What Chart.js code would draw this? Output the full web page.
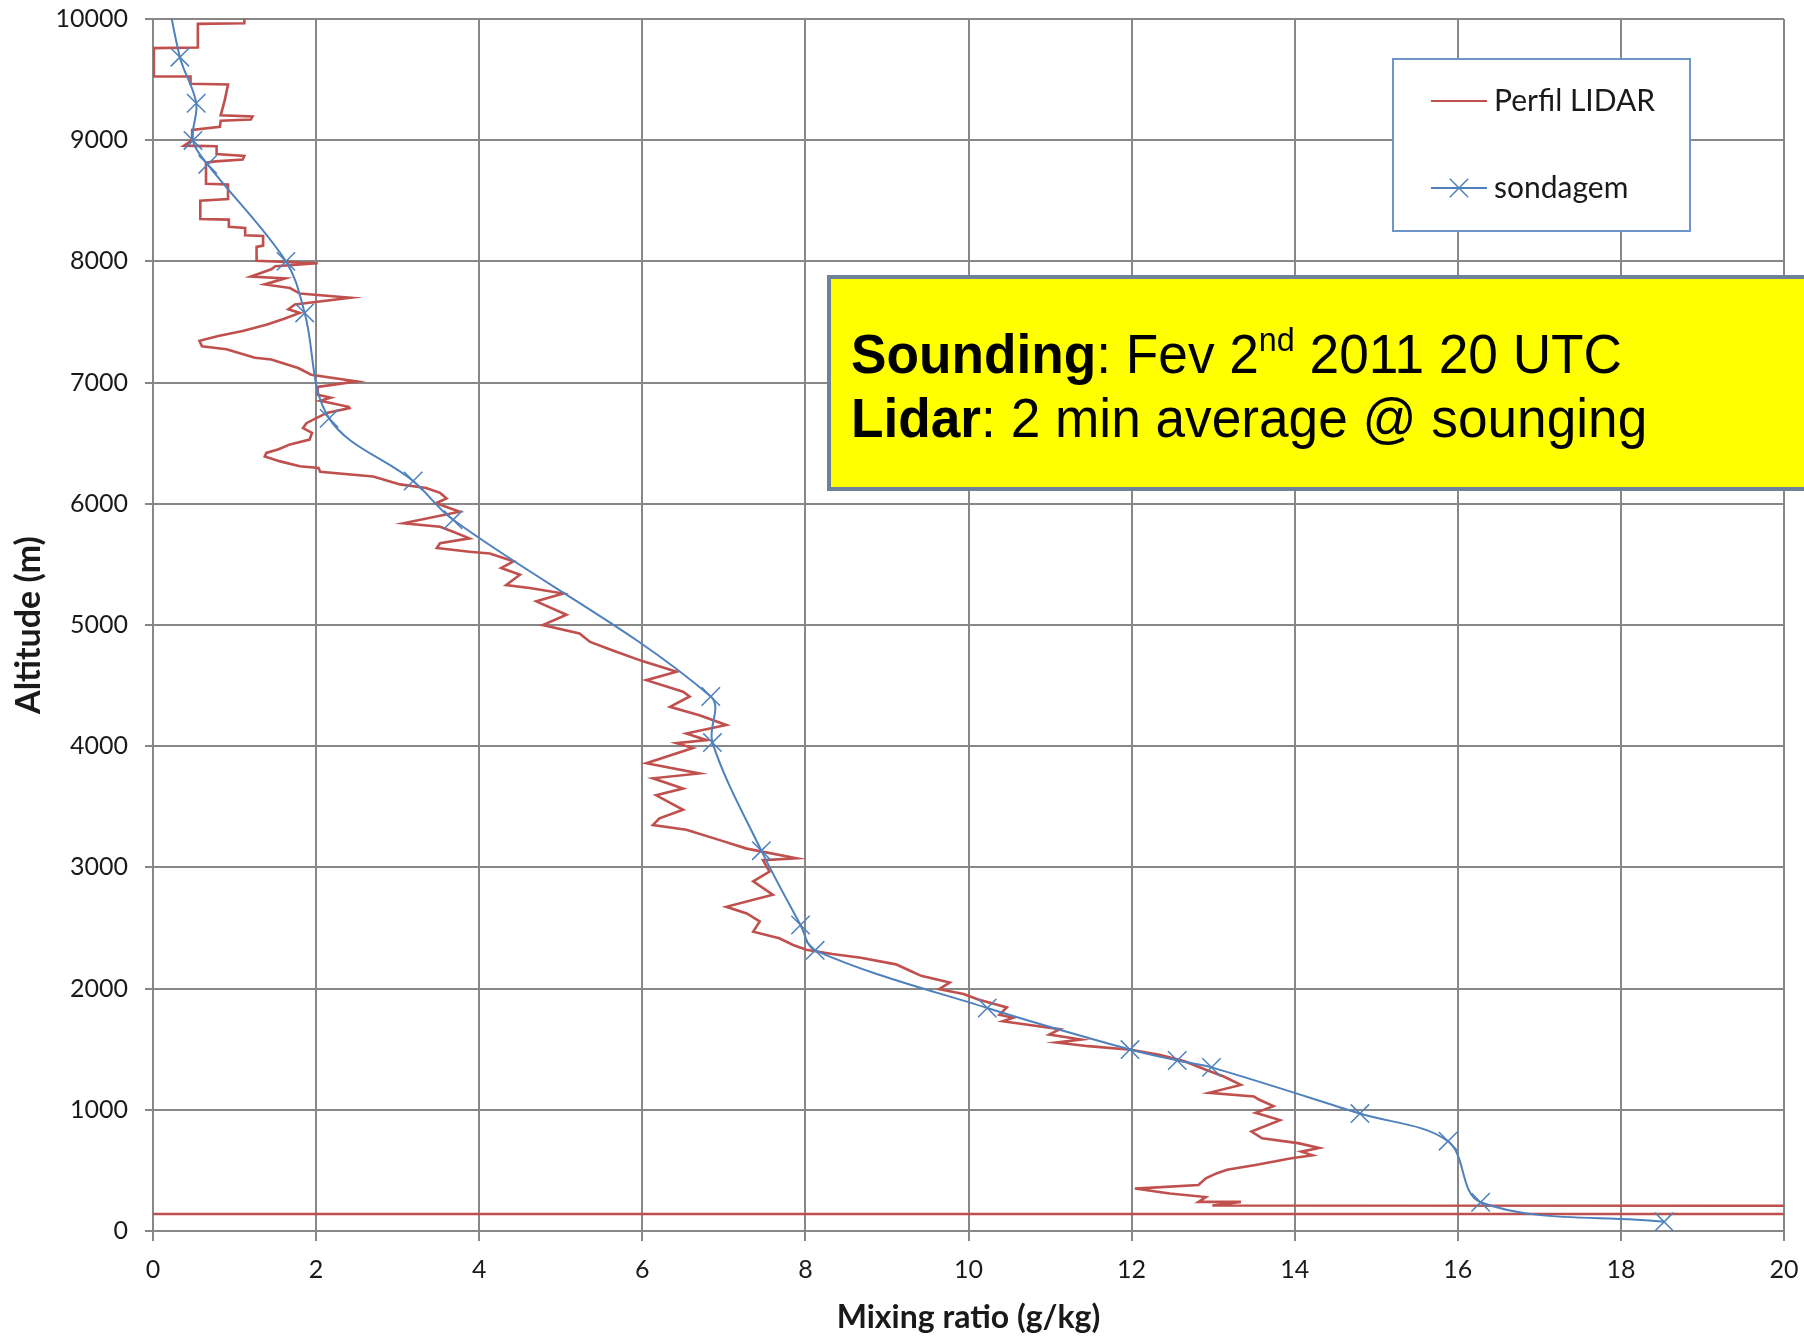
<!DOCTYPE html>
<html>
<head>
<meta charset="utf-8">
<title>Mixing ratio profile</title>
<script src="https://cdn.jsdelivr.net/npm/chart.js@4.4.0/dist/chart.umd.min.js"></script>
<style>
  html, body { margin: 0; padding: 0; background: #fff; }
  canvas { display: block; }
</style>
</head>
<body>
<canvas id="profileChart" width="1804" height="1338"></canvas>
<script>
// series names
const seriesNames = ["Perfil LIDAR", "sondagem"];

// LIDAR profile from top to bottom (g/kg, m)
const lidarRatio = [
  1.12, 1.12, 0.55, 0.55, 0.01, 0.01, 0.46, 0.46, 0.92, 0.88, 0.83, 1.22, 1.20, 0.83, 0.82, 0.48,
  0.48, 0.38, 0.78, 0.78, 1.12, 1.10, 0.77, 0.65, 0.65, 0.92, 0.92, 0.58, 0.58, 0.93, 0.93, 1.13,
  1.13, 1.35, 1.35, 1.27, 1.27, 2.02, 1.50, 1.45, 1.20, 1.62, 1.37, 1.68, 1.80, 2.42, 1.74, 1.66,
  1.80, 1.60, 1.40, 1.10, 0.80, 0.57, 0.60, 0.90, 1.25, 1.45, 1.78, 1.94, 2.50, 2.02, 2.02, 2.18,
  2.05, 2.40, 2.41, 2.13, 1.88, 1.84, 1.95, 1.92, 1.68, 1.54, 1.39, 1.37, 1.56, 1.80, 2.03, 2.05,
  2.70, 3.03, 3.35, 3.52, 3.60, 3.47, 3.76, 3.07, 3.52, 3.68, 3.88, 3.52, 3.48, 3.88, 4.13, 4.42,
  4.27, 4.50, 4.33, 4.62, 5.03, 4.70, 5.07, 4.78, 5.23, 5.36, 5.68, 6.01, 6.42, 6.05, 6.50, 6.58,
  6.34, 6.70, 7.03, 6.54, 6.79, 6.42, 6.62, 6.05, 6.70, 6.13, 6.50, 6.17, 6.50, 6.21, 6.13, 6.54,
  6.95, 7.28, 7.89, 7.48, 7.56, 7.36, 7.60, 7.03, 7.28, 7.44, 7.36, 7.68, 7.85, 8.01, 8.33, 8.68,
  9.11, 9.29, 9.42, 9.77, 9.64, 9.94, 10.12, 10.47, 10.38, 10.55, 10.42, 11.12, 10.99, 11.38, 11.08, 11.47,
  11.99, 12.34, 12.65, 12.91, 13.13, 13.34, 12.95, 13.50, 13.56, 13.74, 13.52, 13.82, 13.47, 13.60, 14.04, 14.30,
  14.08, 14.22, 13.96, 13.52, 13.17, 13.04, 12.91, 12.82, 12.04, 12.47, 12.91, 12.82, 13.34, 12.99, 30, 30,
  -1
];
const lidarAltitude = [
  10060, 9965, 9960, 9765, 9760, 9525, 9525, 9465, 9460, 9330, 9205, 9195, 9170, 9160, 9110, 9085,
  9000, 8955, 8950, 8885, 8870, 8840, 8825, 8815, 8640, 8635, 8515, 8500, 8350, 8345, 8285, 8275,
  8215, 8210, 8130, 8120, 8005, 7985, 7960, 7935, 7875, 7860, 7810, 7780, 7735, 7700, 7645, 7605,
  7575, 7525, 7480, 7425, 7385, 7345, 7300, 7275, 7205, 7190, 7120, 7065, 7010, 6965, 6900, 6875,
  6850, 6800, 6790, 6750, 6665, 6625, 6585, 6530, 6490, 6450, 6420, 6390, 6350, 6310, 6295, 6265,
  6225, 6160, 6130, 6090, 6045, 6005, 5935, 5840, 5810, 5770, 5715, 5675, 5635, 5605, 5590, 5525,
  5470, 5415, 5330, 5305, 5260, 5195, 5085, 5000, 4930, 4860, 4780, 4700, 4615, 4545, 4450, 4410,
  4325, 4255, 4175, 4105, 4050, 4025, 3985, 3860, 3775, 3735, 3650, 3595, 3475, 3405, 3350, 3310,
  3225, 3155, 3075, 3060, 2965, 2885, 2775, 2675, 2620, 2555, 2470, 2415, 2360, 2320, 2285, 2255,
  2200, 2145, 2105, 2050, 1995, 1955, 1910, 1845, 1785, 1760, 1730, 1665, 1620, 1580, 1555, 1525,
  1495, 1455, 1400, 1330, 1275, 1205, 1140, 1110, 1085, 1030, 975, 915, 820, 765, 725, 685,
  655, 625, 600, 545, 505, 475, 435, 380, 350, 310, 280, 240, 240, 210, 205, 140,
  140
];

// radiosonde points (g/kg, m)
const sondeRatio = [
  0.12, 0.33, 0.53, 0.49, 0.67, 1.63, 1.86, 2.16, 3.19, 3.68, 6.84, 6.86,
  7.46, 7.94, 8.12, 10.23, 11.98, 12.56, 12.98, 14.80, 15.88, 16.28, 18.53
];
const sondeAltitude = [
  10400, 9685, 9305, 8998, 8800, 8000, 7575, 6705, 6188, 5868, 4410, 4030,
  3138, 2525, 2316, 1840, 1497, 1407, 1350, 969, 741, 237, 76
];

// axis ticks
const ratioTicks = [0, 2, 4, 6, 8, 10, 12, 14, 16, 18, 20];
const altitudeTicks = [0, 1000, 2000, 3000, 4000, 5000, 6000, 7000, 8000, 9000, 10000];

// note in the yellow box
const noteLines = [
  [{ text: "Sounding", bold: true }, { text: ": Fev 2" }, { text: "nd", sup: true }, { text: " 2011 20 UTC" }],
  [{ text: "Lidar", bold: true }, { text: ": 2 min average @ sounging" }]
];

const gridGray = "#878787";
const textColor = "#1a1a1a";

// legend drawn as a boxed list like the original
const boxLegend = {
  id: "boxLegend",
  afterDatasetsDraw(chart) {
    const ctx = chart.ctx;
    ctx.save();
    ctx.fillStyle = "#ffffff";
    ctx.fillRect(1393, 59, 297, 172);
    ctx.strokeStyle = "#6f96c9";
    ctx.lineWidth = 2;
    ctx.strokeRect(1393, 59, 297, 172);
    chart.data.datasets.forEach((ds, i) => {
      const y = 101 + i * 87;
      ctx.strokeStyle = ds.borderColor;
      ctx.lineWidth = 2;
      ctx.beginPath();
      ctx.moveTo(1431, y);
      ctx.lineTo(1487, y);
      ctx.stroke();
      if (ds.pointRadius > 0) {
        const r = ds.pointRadius * 0.707;
        ctx.lineWidth = ds.pointBorderWidth;
        ctx.beginPath();
        ctx.moveTo(1459 - r, y - r); ctx.lineTo(1459 + r, y + r);
        ctx.moveTo(1459 + r, y - r); ctx.lineTo(1459 - r, y + r);
        ctx.stroke();
      }
      ctx.fillStyle = textColor;
      ctx.font = "30px Lato";
      ctx.textBaseline = "middle";
      ctx.fillText(ds.label, 1494, y);
    });
    ctx.restore();
  }
};

// yellow annotation box
const noteBox = {
  id: "noteBox",
  afterDatasetsDraw(chart) {
    const ctx = chart.ctx;
    ctx.save();
    ctx.fillStyle = "#ffff00";
    ctx.fillRect(829, 277, 1000, 212);
    ctx.strokeStyle = "#6b8299";
    ctx.lineWidth = 4;
    ctx.strokeRect(829, 277, 1000, 212);
    ctx.fillStyle = "#000";
    ctx.textBaseline = "alphabetic";
    noteLines.forEach((line, i) => {
      ctx.save();
      ctx.translate(851, 373 + i * 64);
      ctx.scale(0.95, 1);
      let x = 0;
      line.forEach(part => {
        const size = part.sup ? 34 : 56;
        ctx.font = (part.bold ? "bold " : "") + size + "px 'Liberation Sans', Arial, sans-serif";
        ctx.fillText(part.text, x, part.sup ? -22 : 0);
        x += ctx.measureText(part.text).width;
      });
      ctx.restore();
    });
    ctx.restore();
  }
};

new Chart(document.getElementById("profileChart"), {
  type: "scatter",
  data: {
    datasets: [{
      label: seriesNames[0],
      data: lidarRatio.map((v, i) => ({ x: v, y: lidarAltitude[i] })),
      showLine: true,
      borderColor: "#c0504d",
      borderWidth: 2.6,
      pointRadius: 0,
      tension: 0,
      order: 1
    }, {
      label: seriesNames[1],
      data: sondeRatio.map((v, i) => ({ x: v, y: sondeAltitude[i] })),
      showLine: true,
      borderColor: "#4f81bd",
      borderWidth: 2,
      tension: 0.35,
      pointStyle: "crossRot",
      pointRadius: 13,
      pointBorderWidth: 1.5,
      pointBorderColor: "#4f81bd",
      pointBackgroundColor: "rgba(0,0,0,0)",
      order: 0
    }]
  },
  options: {
    responsive: false,
    animation: false,
    layout: { padding: { top: 19, right: 20, bottom: 0, left: 0 } },
    plugins: {
      legend: { display: false },
      tooltip: { enabled: false }
    },
    scales: {
      x: {
        type: "linear",
        min: 0,
        max: 20,
        afterBuildTicks: s => { s.ticks = ratioTicks.map(v => ({ value: v })); },
        afterFit: s => { s.height = 107; s.paddingLeft = 0; s.paddingRight = 0; },
        grid: { color: gridGray, lineWidth: 2, tickLength: 10, tickColor: gridGray, tickWidth: 2 },
        border: { color: gridGray, width: 2 },
        ticks: {
          color: textColor,
          font: { family: "Lato", size: 25 },
          padding: 14,
          maxRotation: 0,
          autoSkip: false,
          callback: v => String(v)
        },
        title: {
          display: true,
          text: "Mixing ratio (g/kg)",
          color: textColor,
          font: { family: "Lato", size: 32, weight: "bold" },
          padding: { top: 0, bottom: 1 }
        }
      },
      y: {
        type: "linear",
        min: 0,
        max: 10000,
        afterBuildTicks: s => { s.ticks = altitudeTicks.map(v => ({ value: v })); },
        afterFit: s => { s.width = 153; s.paddingTop = 0; s.paddingBottom = 0; },
        grid: { color: gridGray, lineWidth: 2, tickLength: 8, tickColor: gridGray, tickWidth: 2 },
        border: { color: gridGray, width: 2 },
        ticks: {
          color: textColor,
          font: { family: "Lato", size: 25 },
          padding: 17,
          autoSkip: false,
          callback: v => String(v)
        },
        title: {
          display: true,
          text: "Altitude (m)",
          color: textColor,
          font: { family: "Lato", size: 34, weight: "bold" },
          padding: { top: 9, bottom: 0 }
        }
      }
    }
  },
  plugins: [boxLegend, noteBox]
});
</script>
</body>
</html>
